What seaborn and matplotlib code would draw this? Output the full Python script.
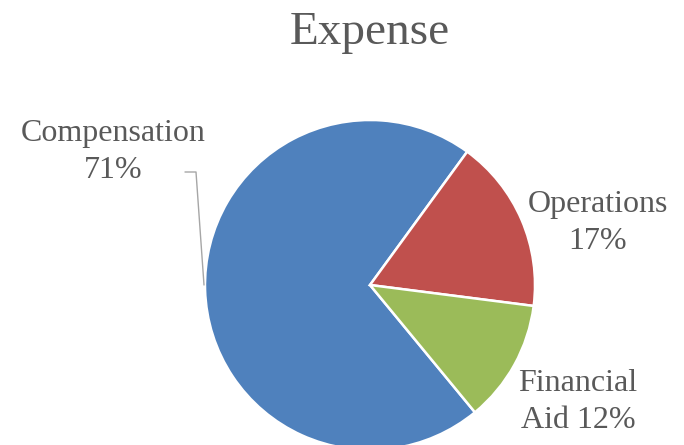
import matplotlib
matplotlib.use("Agg")
import matplotlib.pyplot as plt
import seaborn as sns

categories = ["Compensation", "Operations", "Financial Aid"]
values = [71, 17, 12]
label_texts = ["Compensation\n71%", "Operations\n17%", "Financial\nAid 12%"]
colors = ["#4F81BD", "#C0504D", "#9BBB59"]
title = "Expense"

sns.set_theme(style="white")
plt.rcParams["font.family"] = ["Liberation Serif", "DejaVu Serif"]

W, H = 684, 445
cx, cy, R = 370, 285, 165  # pixel centre and radius

fig = plt.figure(figsize=(W / 100, H / 100), dpi=100)
ax = fig.add_axes([0, 0, 1, 1])

ax.pie(values, colors=colors, startangle=-50.5, counterclock=False, radius=1.0,
       wedgeprops=dict(edgecolor="white", linewidth=1.8))

ax.set_aspect("auto")
ax.set_xlim(-cx / R, (W - cx) / R)
ax.set_ylim(-(H - cy) / R, cy / R)
ax.axis("off")

def px(x, y):
    return ((x - cx) / R, (cy - y) / R)

label_pos = [(113, 152), (598, 223), (578, 402)]
for txt, (x, y) in zip(label_texts, label_pos):
    ax.text(*px(x, y), txt, ha="center", va="center", fontsize=23,
            color="#595959", linespacing=1.37)

# leader line for Compensation
pts = [px(185, 172), px(196, 172), px(204, 285)]
ax.plot([p[0] for p in pts], [p[1] for p in pts], color="#A6A6A6", lw=1.0)

ax.text(*px(370, 33), title, ha="center", va="center", fontsize=34, color="#595959")

fig.savefig("out.png", dpi=100)
